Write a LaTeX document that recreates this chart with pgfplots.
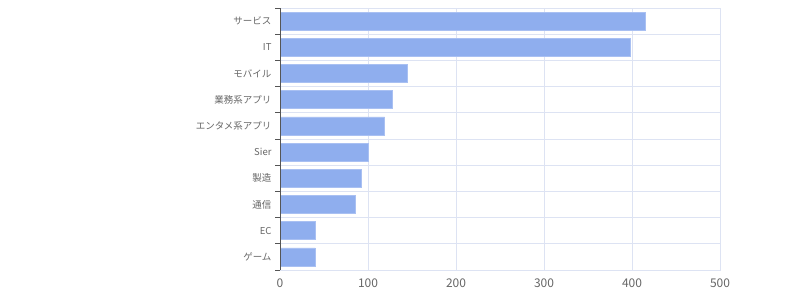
\documentclass[border=0pt]{standalone}
\usepackage{pgfplots}
\pgfplotsset{compat=1.18}
\usepackage{fontspec}
\setmainfont{Noto Sans CJK JP}
\definecolor{barfill}{HTML}{8FAEEE}
\definecolor{baredge}{HTML}{A9C0F2}
\definecolor{gridc}{HTML}{DDE3F3}
\definecolor{txt}{HTML}{666666}
\definecolor{axc}{HTML}{555555}
\begin{document}
\begin{tikzpicture}[x=1pt,y=1pt]
\path[use as bounding box] (0,0) rectangle (800,300);
\begin{axis}[
  at={(280pt,30pt)}, anchor=south west,
  scale only axis, width=440pt, height=262pt,
  xmin=0, xmax=500, ymin=-0.5, ymax=9.5,
  y dir=reverse,
  xtick={0,100,200,300,400,500},
  ytick={-0.5,0.5,...,9.5},
  y tick label as interval,
  yticklabels={サービス,IT,モバイル,業務系アプリ,エンタメ系アプリ,Sier,製造,通信,EC,ゲーム},
  xtick pos=bottom, ytick pos=left,
  xmajorgrids, ymajorgrids,
  grid style={draw=gridc, line width=0.8pt},
  axis line style={draw=gridc, line width=0.8pt},
  x tick style={draw=none},
  y tick style={draw=axc, line width=0.8pt},
  tick align=outside,
  major tick length=5pt,
  xticklabel style={font=\fontsize{12}{14}\selectfont, text=txt},
  yticklabel style={font=\fontsize{9.5}{11}\selectfont, text=txt},
  /pgf/number format/assume math mode=true,
  xbar, bar width=18pt, bar shift=0pt,
]
\addplot[fill=barfill, draw=baredge, line width=0.8pt] coordinates {
(415,0) (398,1) (145,2) (128,3) (119,4) (100,5) (93,6) (86,7) (40,8) (40,9)
};
\draw[axc, line width=0.8pt] (axis cs:0,-0.5) -- (axis cs:0,9.5);
\end{axis}
\end{tikzpicture}
\end{document}
